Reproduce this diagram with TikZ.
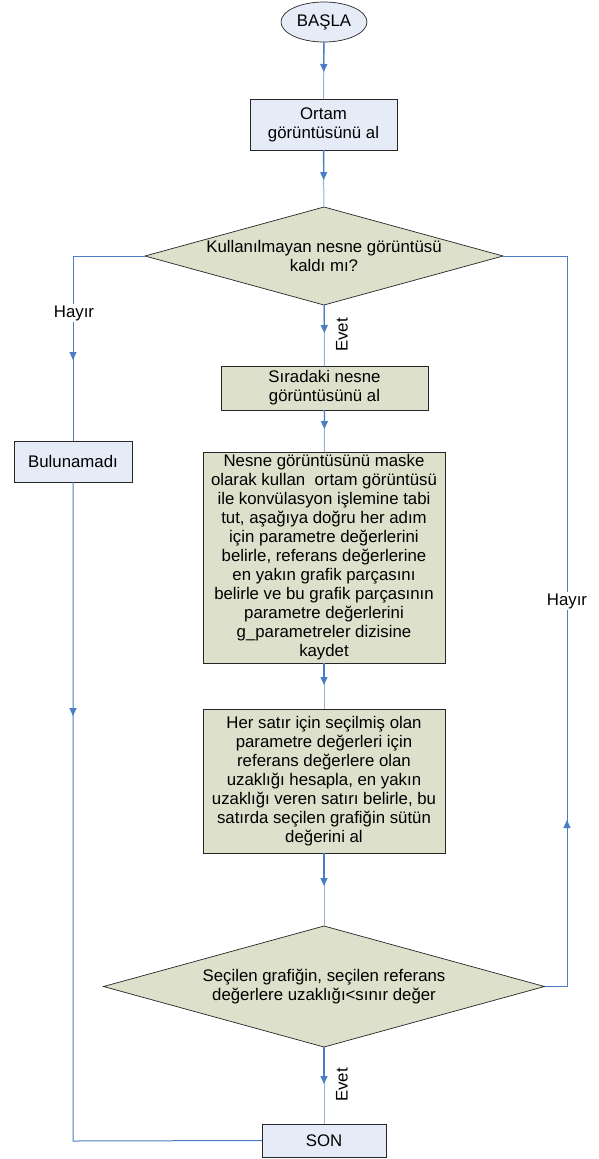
\documentclass[tikz,border=0pt]{standalone}
\usepackage{fontspec}
\setmainfont{Liberation Sans}
\usetikzlibrary{shapes.geometric,arrows.meta,decorations.markings,shadows}
\definecolor{lineblue}{HTML}{4A7EC4}
\definecolor{lightblue}{HTML}{95B3D7}
\definecolor{boxblue}{HTML}{E6ECF7}
\definecolor{boxgreen}{HTML}{DDE0CB}
\definecolor{shadowgray}{HTML}{808080}
\tikzset{
  txt/.style={font=\fontsize{16.8}{19}\selectfont},
  base/.style={draw=black!85, line width=0.7pt, inner sep=0pt, outer sep=0pt,
    align=center, txt,
    drop shadow={shadow xshift=1.3pt, shadow yshift=-1.3pt, fill=shadowgray, opacity=1}},
  bluebox/.style={base, rectangle, fill=boxblue},
  greenbox/.style={base, rectangle, fill=boxgreen},
  startnode/.style={draw=black!85, line width=0.7pt, ellipse, fill=boxblue, inner sep=0pt,
    outer sep=0pt, txt},
  decision/.style={draw=black!85, line width=0.7pt, diamond, fill=boxgreen, inner sep=0pt, outer sep=0pt},
  dtext/.style={align=center, inner sep=0pt, txt},
  lbl/.style={inner sep=1pt, fill=white, txt},
  flow/.style={color=lineblue, line width=1pt},
  lightflow/.style={color=lightblue, line width=1pt},
  tipend/.style={-{Triangle[width=7pt,length=8pt]}, color=lineblue, line width=1.3pt},
  arrowat/.style={postaction={decorate}, decoration={markings,
    mark=at position #1 with {\arrow{Triangle[width=7pt,length=8pt]}}}},
}
\begin{document}
\begin{tikzpicture}[x=1pt,y=-1pt]
\useasboundingbox (0,0) rectangle (598,1159);

\node[startnode, minimum width=86pt, minimum height=40pt] (start) at (324,22) {BAŞLA};
\node[bluebox, minimum width=147pt, minimum height=51pt] (ortam) at (323.5,124.5) {Ortam\\görüntüsünü al};
\node[decision, minimum width=358pt, minimum height=98pt] (d1) at (324,256) {};
\node[dtext] (d1t) at (324,256) {Kullanılmayan nesne görüntüsü\\kaldı mı?};
\node[greenbox, minimum width=207pt, minimum height=44pt] (sira) at (324.5,388) {Sıradaki nesne\\görüntüsünü al};
\node[greenbox, minimum width=242pt, minimum height=211pt] (big) at (324,557.5)
 {Nesne görüntüsünü maske\\olarak kullan\ \ ortam görüntüsü\\ile konvülasyon işlemine tabi\\tut, aşağıya doğru her adım\\için parametre değerlerini\\belirle, referans değerlerine\\en yakın grafik parçasını\\belirle ve bu grafik parçasının\\parametre değerlerini\\g\_parametreler dizisine\\kaydet};
\node[greenbox, minimum width=242pt, minimum height=144pt] (her) at (324,781)
 {Her satır için seçilmiş olan\\parametre değerleri için\\referans değerlere olan\\uzaklığı hesapla, en yakın\\uzaklığı veren satırı belirle, bu\\satırda seçilen grafiğin sütün\\değerini al};
\node[decision, minimum width=441pt, minimum height=121pt] (d2) at (324,986.5) {};
\node[dtext] (d2t) at (324,987) {Seçilen grafiğin, seçilen referans\\değerlere uzaklığı<sınır değer};
\node[bluebox, minimum width=118pt, minimum height=41pt] (bul) at (73,461.5) {Bulunamadı};
\node[bluebox, minimum width=124pt, minimum height=33pt] (son) at (324,1140.5) {SON};

\coordinate (l1) at (73,256);
\coordinate (l2) at (73,1141);
\coordinate (r1) at (567,986.5);
\coordinate (r2) at (567,256);

% main flow: light full line, dark part with arrow tip
\draw[lightflow] (start) -- (ortam);
\draw[tipend, shorten >=27pt] (start) -- (ortam);
\draw[lightflow] (ortam) -- (d1);
\draw[tipend, shorten >=27pt] (ortam) -- (d1);
\draw[lightflow] (d1) -- (sira);
\draw[tipend, shorten >=33pt] (d1) -- (sira);
\node[lbl, fill=none, rotate=90] (evet1) at (342,335) {Evet};
\draw[lightflow] (sira) -- (big);
\draw[tipend, shorten >=23pt] (sira) -- (big);
\draw[lightflow] (big) -- (her);
\draw[tipend, shorten >=24pt] (big) -- (her);
\draw[lightflow] (her) -- (d2);
\draw[tipend, shorten >=40pt] (her) -- (d2);
\draw[lightflow] (d2) -- (son);
\draw[tipend, shorten >=40pt] (d2) -- (son);
\node[lbl, fill=none, rotate=90] (evet2) at (342,1085) {Evet};

% left branch
\draw[flow, arrowat=176pt] (d1.west) -- (l1) -- (bul.north);
\node[lbl] (hayir1) at (74,313) {Hayır};
\draw[flow, arrowat=234pt] (bul.south) -- (l2) -- (son.west);

% right branch
\draw[flow, arrowat=189pt] (d2.east) -- (r1) -- (r2) -- (d1.east);
\node[lbl] (hayir2) at (567,601) {Hayır};
\end{tikzpicture}
\end{document}
